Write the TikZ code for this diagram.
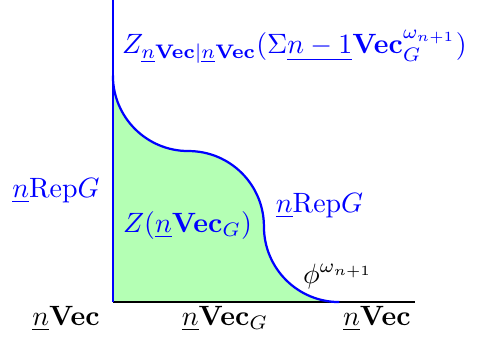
\documentclass[tikz,border=0pt]{standalone}
\usepackage{amsmath,amssymb}
\usepackage{xcolor}
\usepackage{tikz}
\usetikzlibrary{positioning}
\definecolor{zonegreen}{RGB}{180,255,180}
\tikzset{
  bluelbl/.style ={text=blue, inner sep=2pt, font=\fontsize{10.3pt}{12pt}\selectfont},
  blacklbl/.style={text=black, inner sep=2pt, font=\fontsize{10.3pt}{12pt}\selectfont},
  axisline/.style={semithick, black},
  bdline/.style  ={thick, blue},
}
\begin{document}
\begin{tikzpicture}
  \useasboundingbox (-1.42,-0.54) rectangle (4.58,3.8);
  %% axes and corner points
  \coordinate (O)  at (0,0);
  \coordinate (yt) at (0,3.8);
  \coordinate (xr) at (3.8,0);
  \coordinate (c0) at (0,2.85);
  \coordinate (c1) at (0.95,1.9);
  \coordinate (c2) at (1.9,0.95);
  \coordinate (c3) at (2.85,0);
  %% region
  \fill[zonegreen] (O)--(c0) to[out=-90,in=180] (c1) to[out=0,in=90] (c2)
        to[out=-90,in=180] (c3)--cycle;
  \draw[axisline] (O)--(xr);
  \draw[bdline] (yt)--(O);
  \draw[bdline] (c0) to[out=-90,in=180] (c1) to[out=0,in=90] (c2)
        to[out=-90,in=180] (c3);
  %% labels
  \node[bluelbl, anchor=base west] (top) at (0.04,3.13)
    {$Z_{\underline{n}\mathbf{Vec}|\underline{n}\mathbf{Vec}}(\Sigma\underline{n-1}\mathbf{Vec}_G^{\omega_{n+1}})$};
  \node[bluelbl, anchor=base east] (repl) at (-0.09,1.32) {$\underline{n}\mathrm{Rep}G$};
  \node[bluelbl, anchor=base] (zin) at (0.94,0.88) {$Z(\underline{n}\mathbf{Vec}_G)$};
  \node[bluelbl, anchor=base] (repr) at (2.60,1.13) {$\underline{n}\mathrm{Rep}G$};
  \node[blacklbl, anchor=base] (phi) at (2.83,0.24) {$\phi^{\omega_{n+1}}$};
  \node[blacklbl, anchor=base] (vl) at (-0.59,-0.29) {$\underline{n}\mathbf{Vec}$};
  \node[blacklbl, anchor=base] (vg) at (1.41,-0.29) {$\underline{n}\mathbf{Vec}_G$};
  \node[blacklbl, anchor=base] (vr) at (3.32,-0.29) {$\underline{n}\mathbf{Vec}$};
\end{tikzpicture}
\end{document}
